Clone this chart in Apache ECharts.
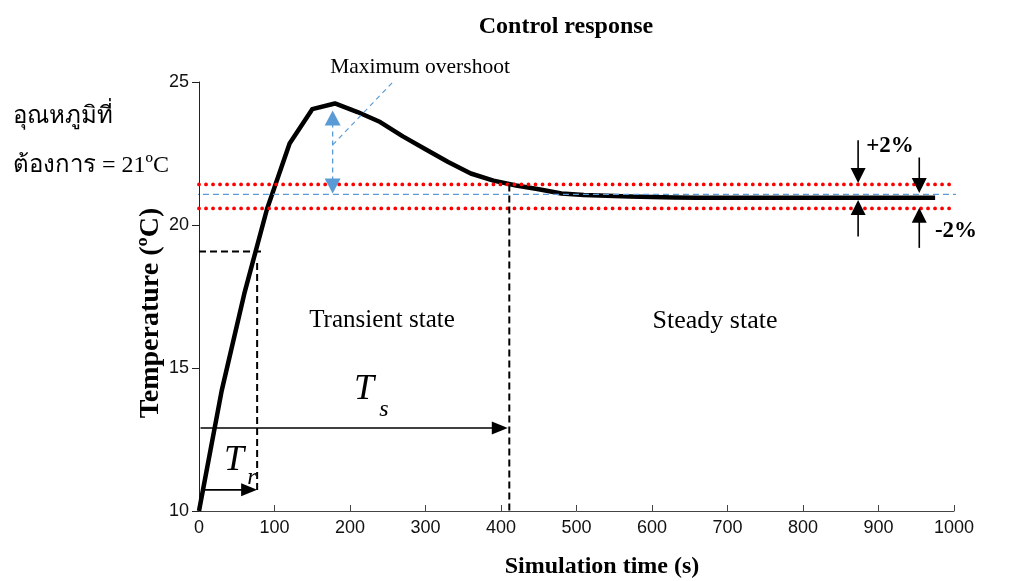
<!DOCTYPE html>
<html><head><meta charset="utf-8">
<script src="https://cdn.jsdelivr.net/npm/echarts@6/dist/echarts.min.js"></script>
<style>html,body{margin:0;padding:0;background:#fff}#c{width:1009px;height:581px}</style>
</head><body><div id="c"></div>
<script>
// ---- data ----
const timeS = [0, 30, 60, 90, 120, 150, 180, 210, 240, 270, 300, 330, 360, 390, 420, 450, 480, 510, 540, 570, 600, 630, 660, 700, 750, 800, 850, 900, 950, 975];
const tempC = [10, 14.2, 17.6, 20.55, 22.85, 24.05, 24.25, 23.95, 23.6, 23.1, 22.65, 22.2, 21.8, 21.55, 21.38, 21.25, 21.1, 21.05, 21.02, 21.0, 20.98, 20.96, 20.95, 20.95, 20.95, 20.95, 20.95, 20.95, 20.95, 20.95];
const xTicks = [0, 100, 200, 300, 400, 500, 600, 700, 800, 900, 1000];
const yTicks = [10, 15, 20, 25];
const setpointC = 21.07;
const bandUpperC = 21.42;
const bandLowerC = 20.58;
const riseTimeS = 77;
const riseLevelC = 19.07;
const settlingTimeS = 411;
const peakTimeS = 177;
const peakC = 24.0;

// ---- chart ----
const chart = echarts.init(document.getElementById('c'), null, {renderer: 'canvas'});
const serif = 'Liberation Serif, Times New Roman, serif';
const sans = 'Liberation Sans, Arial, sans-serif';

function arrowSeries(name, items, opt) {
  return {
    type: 'custom', name, clip: false, silent: true, z: opt.z || 5,
    data: items,
    encode: {x: [0, 2], y: [1, 3]},
    renderItem: function (params, api) {
      const p1 = api.coord([api.value(0), api.value(1)]);
      const p2 = api.coord([api.value(2), api.value(3)]);
      const dx = p2[0] - p1[0], dy = p2[1] - p1[1];
      const len = Math.sqrt(dx * dx + dy * dy) || 1;
      const ux = dx / len, uy = dy / len, nx = -uy, ny = ux;
      const children = [];
      const hl = opt.headLen || 0, hw = opt.headWid || 0;
      const head = (tip, sx, sy) => {
        const bx = tip[0] - sx * hl, by = tip[1] - sy * hl;
        return {type: 'polygon', shape: {points: [tip, [bx + nx * hw / 2, by + ny * hw / 2], [bx - nx * hw / 2, by - ny * hw / 2]]},
          style: {fill: opt.color}};
      };
      let a = p1, b = p2;
      if (hl && opt.both) a = [p1[0] + ux * hl * 0.8, p1[1] + uy * hl * 0.8];
      if (hl) b = [p2[0] - ux * hl * 0.8, p2[1] - uy * hl * 0.8];
      children.push({type: 'line', shape: {x1: a[0], y1: a[1], x2: b[0], y2: b[1]},
        style: {stroke: opt.color, lineWidth: opt.width, lineDash: opt.dash || null, fill: null}});
      if (hl) children.push(head(p2, ux, uy));
      if (hl && opt.both) children.push(head(p1, -ux, -uy));
      return {type: 'group', children};
    }
  };
}

const option = {
  animation: false,
  backgroundColor: '#fff',
  grid: {left: 199, right: 55, top: 82, bottom: 70},
  xAxis: {
    type: 'value', min: xTicks[0], max: xTicks[xTicks.length - 1], interval: xTicks[1] - xTicks[0],
    axisLine: {lineStyle: {color: '#444', width: 1}},
    axisTick: {inside: true, length: 6, lineStyle: {color: '#444'}},
    axisLabel: {color: '#111', fontSize: 18, fontFamily: sans, margin: 8, formatter: v => String(v)},
    splitLine: {show: false}
  },
  yAxis: {
    type: 'value', min: yTicks[0], max: yTicks[yTicks.length - 1], interval: yTicks[1] - yTicks[0],
    axisLine: {show: true, lineStyle: {color: '#222', width: 1}},
    axisTick: {show: true, inside: false, length: 7, lineStyle: {color: '#222'}},
    axisLabel: {color: '#111', fontSize: 18, fontFamily: sans, margin: 10, formatter: v => String(v)},
    splitLine: {show: false}
  },
  series: [
    {type: 'line', name: 'response', data: timeS.map((t, i) => [t, tempC[i]]), symbol: 'none', z: 3,
      lineStyle: {color: '#000', width: 4.5, join: 'round'}},
    {type: 'line', name: 'upper', data: [[0, bandUpperC], [1000, bandUpperC]], symbol: 'none', z: 4,
      lineStyle: {color: '#ff0000', width: 3.8, type: [0.01, 7], cap: 'round'}},
    {type: 'line', name: 'lower', data: [[0, bandLowerC], [1000, bandLowerC]], symbol: 'none', z: 4,
      lineStyle: {color: '#ff0000', width: 3.8, type: [0.01, 7], cap: 'round'}},
    {type: 'line', name: 'setpoint', data: [[-61, setpointC], [1070, setpointC]], symbol: 'none', clip: false, z: 6,
      lineStyle: {color: '#5b9bd5', width: 1.2, type: [6, 4]}},
    arrowSeries('dashes', [
      [0, riseLevelC, riseTimeS + 6, riseLevelC],
      [riseTimeS, riseLevelC - 0.4, riseTimeS, 10.72],
      [settlingTimeS, bandUpperC, settlingTimeS, 10]
    ], {color: '#000', width: 2, dash: [7, 4]}),
    arrowSeries('pointer', [[peakTimeS, 22.8, 259, 25.06]], {color: '#5b9bd5', width: 1.2, dash: [5, 4]}),
    arrowSeries('overshoot', [[peakTimeS, setpointC + 0.03, peakTimeS, peakC]], {color: '#5b9bd5', width: 1.3, dash: [5, 4], headLen: 15, headWid: 16, both: true, z: 7}),
    arrowSeries('times', [
      [7.5, 10.74, riseTimeS, 10.74],
      [2, 12.9, settlingTimeS - 2, 12.9]
    ], {color: '#000', width: 1.6, headLen: 16, headWid: 13}),
    arrowSeries('band', [
      [873, 22.96, 873, 21.47],
      [873, 19.6, 873, 20.87],
      [954, 22.36, 954, 21.12],
      [954, 19.2, 954, 20.6]
    ], {color: '#000', width: 1.6, headLen: 15, headWid: 15, z: 8})
  ],
  graphic: [
    {type: 'text', x: 566, y: 27, style: {text: 'Control response', font: 'bold 24px ' + serif, fill: '#000', align: 'center', verticalAlign: 'middle'}},
    {type: 'text', x: 602, y: 567, style: {text: 'Simulation time (s)', font: 'bold 24px ' + serif, fill: '#000', align: 'center', verticalAlign: 'middle'}},
    {type: 'text', x: 151, y: 313, rotation: Math.PI / 2, style: {text: 'Temperature (ºC)', font: 'bold 28px ' + serif, fill: '#000', align: 'center', verticalAlign: 'middle'}},
    {type: 'text', x: 13, y: 117, style: {text: 'อุณหภูมิที่', font: '24px ' + serif, fill: '#000', align: 'left', verticalAlign: 'middle'}},
    {type: 'text', x: 13, y: 166, style: {text: 'ต้องการ = 21ºC', font: '24px ' + serif, fill: '#000', align: 'left', verticalAlign: 'middle'}},
    {type: 'text', x: 420, y: 67, style: {text: 'Maximum overshoot', font: '21.5px ' + serif, fill: '#000', align: 'center', verticalAlign: 'middle'}},
    {type: 'text', x: 382, y: 320, style: {text: 'Transient state', font: '25px ' + serif, fill: '#000', align: 'center', verticalAlign: 'middle'}},
    {type: 'text', x: 715, y: 321, style: {text: 'Steady state', font: '26px ' + serif, fill: '#000', align: 'center', verticalAlign: 'middle'}},
    {type: 'text', x: 234, y: 461, style: {text: 'T', font: 'italic 36px ' + serif, fill: '#000', align: 'center', verticalAlign: 'middle'}},
    {type: 'text', x: 252, y: 478, style: {text: 'r', font: 'italic 24px ' + serif, fill: '#000', align: 'center', verticalAlign: 'middle'}},
    {type: 'text', x: 364, y: 390, style: {text: 'T', font: 'italic 36px ' + serif, fill: '#000', align: 'center', verticalAlign: 'middle'}},
    {type: 'text', x: 384, y: 410, style: {text: 's', font: 'italic 24px ' + serif, fill: '#000', align: 'center', verticalAlign: 'middle'}},
    {type: 'text', x: 890, y: 146, style: {text: '+2%', font: 'bold 23px ' + serif, fill: '#000', align: 'center', verticalAlign: 'middle'}},
    {type: 'text', x: 956, y: 231, style: {text: '-2%', font: 'bold 23px ' + serif, fill: '#000', align: 'center', verticalAlign: 'middle'}}
  ]
};
chart.setOption(option);
</script></body></html>
